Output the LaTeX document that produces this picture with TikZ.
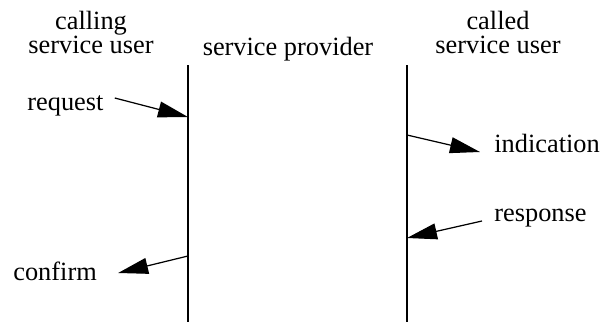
\documentclass[tikz,border=0pt]{standalone}
\usepackage{fontspec}
\setmainfont{Liberation Serif}
\usetikzlibrary{arrows.meta}

\begin{document}
\begin{tikzpicture}[x=0.02cm, y=-0.02cm, font=\fontsize{15}{13.2}\selectfont,
    head/.style={inner sep=0pt, align=center, anchor=base},
    prim/.style={inner sep=0pt, anchor=base west},
    msg/.style={-{Triangle[length=0.6cm, width=0.32cm]}, line width=0.7pt},
    life/.style={line width=0.8pt}]
  \useasboundingbox (0,0) rectangle (600,322);

  % Headings
  \node [head] (caller) at (91,53) {calling\\service user};
  \node [head] (provider) at (288,55) {service provider};
  \node [head] (callee) at (498,53) {called\\service user};

  % Lifelines
  \coordinate (ltop) at (188,65);
  \coordinate (lbot) at (188,322);
  \coordinate (rtop) at (407,65);
  \coordinate (rbot) at (407,322);
  \draw [life] (ltop) -- (lbot);
  \draw [life] (rtop) -- (rbot);

  % Primitives
  \node [prim] (request) at (27,110) {request};
  \node [prim] (indication) at (494,152) {indication};
  \node [prim] (response) at (494,221) {response};
  \node [prim] (confirm) at (13,280) {confirm};

  % Arrows
  \coordinate (reqin) at (188,117);
  \coordinate (indout) at (407,135);
  \coordinate (respin) at (407,238);
  \coordinate (confout) at (188,256);
  \draw [msg] ([xshift=0.22cm, yshift=0.24cm]request.base east) -- (reqin);
  \draw [msg] (indout) -- ([xshift=-0.28cm]indication.base west);
  \draw [msg] ([xshift=-0.24cm]response.base west) -- (respin);
  \draw [msg] (confout) -- ([xshift=0.42cm, yshift=0.14cm]confirm.base east);
\end{tikzpicture}
\end{document}
